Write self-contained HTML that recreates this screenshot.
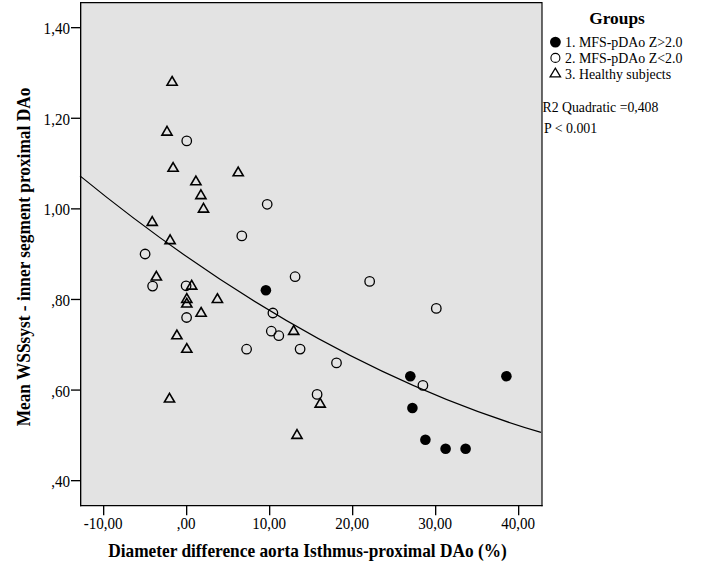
<!DOCTYPE html><html><head><meta charset="utf-8"><style>html,body{margin:0;padding:0;background:#fff;width:719px;height:575px;overflow:hidden}svg{display:block}text{font-family:"Liberation Serif",serif;fill:#000}</style></head><body>
<svg width="719" height="575" viewBox="0 0 719 575">
<rect x="80" y="2" width="462" height="504" fill="#e3e3e3"/>
<path d="M80.67 506.33V2.67H542" fill="none" stroke="#000" stroke-width="1.33"/>
<path d="M80 505.67H542.67" fill="none" stroke="#000" stroke-width="1.33"/>
<path d="M542 2V506.33" fill="none" stroke="#000" stroke-width="1.15"/>
<g stroke="#000" stroke-width="1.33">
<line x1="71" y1="27.67" x2="80.5" y2="27.67"/>
<line x1="71" y1="118.27" x2="80.5" y2="118.27"/>
<line x1="71" y1="208.87" x2="80.5" y2="208.87"/>
<line x1="71" y1="299.47" x2="80.5" y2="299.47"/>
<line x1="71" y1="390.07" x2="80.5" y2="390.07"/>
<line x1="71" y1="480.67" x2="80.5" y2="480.67"/>
<line x1="103.67" y1="505" x2="103.67" y2="515.2"/>
<line x1="186.67" y1="505" x2="186.67" y2="515.2"/>
<line x1="269.67" y1="505" x2="269.67" y2="515.2"/>
<line x1="352.67" y1="505" x2="352.67" y2="515.2"/>
<line x1="435.67" y1="505" x2="435.67" y2="515.2"/>
<line x1="518.67" y1="505" x2="518.67" y2="515.2"/>
</g>
<text transform="translate(70,34.2) scale(1,1.09)" font-size="15.1" text-anchor="end">1,40</text>
<text transform="translate(70,124.8) scale(1,1.09)" font-size="15.1" text-anchor="end">1,20</text>
<text transform="translate(70,215.4) scale(1,1.09)" font-size="15.1" text-anchor="end">1,00</text>
<text transform="translate(70,306.0) scale(1,1.09)" font-size="15.1" text-anchor="end">,80</text>
<text transform="translate(70,396.6) scale(1,1.09)" font-size="15.1" text-anchor="end">,60</text>
<text transform="translate(70,487.2) scale(1,1.09)" font-size="15.1" text-anchor="end">,40</text>
<text transform="translate(103.17,528.9) scale(1,1.09)" font-size="15.1" text-anchor="middle">-10,00</text>
<text transform="translate(186.17,528.9) scale(1,1.09)" font-size="15.1" text-anchor="middle">,00</text>
<text transform="translate(269.17,528.9) scale(1,1.09)" font-size="15.1" text-anchor="middle">10,00</text>
<text transform="translate(352.17,528.9) scale(1,1.09)" font-size="15.1" text-anchor="middle">20,00</text>
<text transform="translate(435.17,528.9) scale(1,1.09)" font-size="15.1" text-anchor="middle">30,00</text>
<text transform="translate(518.17,528.9) scale(1,1.09)" font-size="15.1" text-anchor="middle">40,00</text>
<text transform="translate(307.5,557) scale(1,1.06)" font-size="17.33" font-weight="bold" text-anchor="middle">Diameter difference aorta Isthmus-proximal DAo (%)</text>
<text transform="translate(29.9,257) rotate(-90) scale(1,1.06)" font-size="17.33" font-weight="bold" text-anchor="middle">Mean WSSsyst - inner segment proximal DAo</text>
<path d="M80 175.84Q310.5 364.39 541 432.45" fill="none" stroke="#000" stroke-width="1.2"/>
<g fill="none" stroke="#000" stroke-width="1.3">
<circle cx="186.75" cy="140.9" r="4.75"/>
<circle cx="267.2" cy="204.3" r="4.75"/>
<circle cx="241.8" cy="235.9" r="4.75"/>
<circle cx="145.1" cy="254.0" r="4.75"/>
<circle cx="152.6" cy="286.1" r="4.75"/>
<circle cx="186.1" cy="285.8" r="4.75"/>
<circle cx="186.6" cy="317.5" r="4.75"/>
<circle cx="295.1" cy="276.7" r="4.75"/>
<circle cx="272.9" cy="313.0" r="4.75"/>
<circle cx="271.3" cy="331.2" r="4.75"/>
<circle cx="278.8" cy="335.7" r="4.75"/>
<circle cx="246.6" cy="349.2" r="4.75"/>
<circle cx="300.1" cy="349.1" r="4.75"/>
<circle cx="336.5" cy="362.9" r="4.75"/>
<circle cx="317.1" cy="394.4" r="4.75"/>
<circle cx="369.65" cy="281.4" r="4.75"/>
<circle cx="436.3" cy="308.4" r="4.75"/>
<circle cx="422.9" cy="385.4" r="4.75"/>
</g><g fill="none" stroke="#000" stroke-width="1.6">
<path d="M172.10 76.50L177.18 85.20L167.02 85.20Z"/>
<path d="M167.00 126.40L172.08 135.10L161.92 135.10Z"/>
<path d="M173.10 162.60L178.18 171.30L168.02 171.30Z"/>
<path d="M195.90 176.05L200.98 184.75L190.82 184.75Z"/>
<path d="M200.90 189.90L205.98 198.60L195.82 198.60Z"/>
<path d="M203.50 203.45L208.58 212.15L198.42 212.15Z"/>
<path d="M238.20 167.05L243.28 175.75L233.12 175.75Z"/>
<path d="M152.20 216.70L157.28 225.40L147.12 225.40Z"/>
<path d="M170.10 234.95L175.18 243.65L165.02 243.65Z"/>
<path d="M156.35 271.30L161.43 280.00L151.27 280.00Z"/>
<path d="M191.70 280.45L196.78 289.15L186.62 289.15Z"/>
<path d="M186.80 293.65L191.88 302.35L181.72 302.35Z"/>
<path d="M186.80 298.35L191.88 307.05L181.72 307.05Z"/>
<path d="M217.40 293.75L222.48 302.45L212.32 302.45Z"/>
<path d="M201.10 307.50L206.18 316.20L196.02 316.20Z"/>
<path d="M176.90 330.05L181.98 338.75L171.82 338.75Z"/>
<path d="M186.80 343.60L191.88 352.30L181.72 352.30Z"/>
<path d="M169.50 393.35L174.58 402.05L164.42 402.05Z"/>
<path d="M293.70 325.65L298.78 334.35L288.62 334.35Z"/>
<path d="M320.20 398.45L325.28 407.15L315.12 407.15Z"/>
<path d="M297.00 429.65L302.08 438.35L291.92 438.35Z"/>
</g><g fill="#000">
<circle cx="265.9" cy="290.3" r="5.3"/>
<circle cx="410.3" cy="376.2" r="5.3"/>
<circle cx="412.4" cy="408.0" r="5.3"/>
<circle cx="425.4" cy="439.7" r="5.3"/>
<circle cx="445.6" cy="448.7" r="5.3"/>
<circle cx="465.6" cy="448.7" r="5.3"/>
<circle cx="506.4" cy="376.2" r="5.3"/>
</g>
<text x="617" y="24" font-size="17.33" font-weight="bold" text-anchor="middle">Groups</text>
<circle cx="555.4" cy="42.1" r="5.4" fill="#000"/>
<circle cx="555.4" cy="57.9" r="4.5" fill="none" stroke="#000" stroke-width="1.1"/>
<path d="M555.3 68.2L560.5 76.9L550.1 76.9Z" fill="none" stroke="#000" stroke-width="1.3"/>
<text x="565" y="47" font-size="13.9">1. MFS-pDAo Z&gt;2.0</text>
<text x="565" y="62.9" font-size="13.9">2. MFS-pDAo Z&lt;2.0</text>
<text x="565" y="78.8" font-size="13.9">3. Healthy subjects</text>
<text x="542.5" y="111.7" font-size="13.75">R2 Quadratic =0,408</text>
<text x="544" y="132.7" font-size="13.9">P &lt; 0.001</text>
</svg></body></html>
